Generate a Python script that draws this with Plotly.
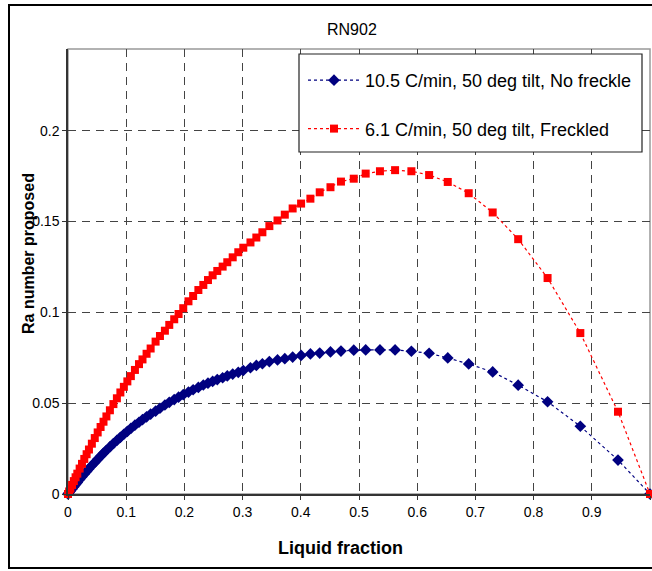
import plotly.graph_objects as go

# Shared liquid-fraction grid
liquid_fraction = [0.0, 0.002, 0.004, 0.007, 0.010, 0.013, 0.016, 0.020, 0.024, 0.028,
                   0.032, 0.036, 0.041, 0.046, 0.051, 0.056, 0.061, 0.066, 0.072, 0.078,
                   0.084, 0.090, 0.096, 0.102, 0.108, 0.115, 0.122, 0.128, 0.135, 0.142,
                   0.1505, 0.158, 0.1665, 0.174, 0.1825, 0.190, 0.198, 0.207, 0.215, 0.224,
                   0.2325, 0.2405, 0.2485, 0.2565, 0.2657, 0.2737, 0.283, 0.2926, 0.3012, 0.3135,
                   0.3236, 0.334, 0.346, 0.360, 0.3725, 0.386, 0.4005, 0.4165, 0.4325, 0.451,
                   0.469, 0.491, 0.5115, 0.536, 0.562, 0.590, 0.6205, 0.6525, 0.6885, 0.7297,
                   0.7735, 0.824, 0.8803, 0.945, 1.0]

ra_no_freckle = [0.0, 0.0008, 0.0016, 0.0028, 0.0040, 0.0052, 0.0064, 0.0080, 0.0095, 0.0110,
                 0.0124, 0.0139, 0.0157, 0.0174, 0.0191, 0.0208, 0.0225, 0.0241, 0.0259, 0.0278,
                 0.0295, 0.0312, 0.0329, 0.0345, 0.0361, 0.0379, 0.0395, 0.0409, 0.0425, 0.0440,
                 0.0456, 0.0472, 0.0490, 0.0505, 0.0520, 0.0533, 0.0547, 0.0561, 0.0574, 0.0587,
                 0.0600, 0.0610, 0.0620, 0.0630, 0.0640, 0.0650, 0.0660, 0.0670, 0.0680, 0.0695,
                 0.0708, 0.0717, 0.0729, 0.0738, 0.0745, 0.0754, 0.0763, 0.0771, 0.0776, 0.0782,
                 0.0787, 0.0792, 0.0793, 0.0793, 0.0793, 0.0786, 0.0775, 0.0749, 0.0716, 0.0672,
                 0.0599, 0.0508, 0.0373, 0.0187, 0.0]

ra_freckled = [0.0, 0.0014, 0.0029, 0.0050, 0.0071, 0.0092, 0.0112, 0.0140, 0.0166, 0.0193,
               0.0219, 0.0245, 0.0277, 0.0308, 0.0339, 0.0369, 0.0398, 0.0427, 0.0461, 0.0495,
               0.0527, 0.0559, 0.0590, 0.0620, 0.0649, 0.0683, 0.0715, 0.0741, 0.0772, 0.0801,
               0.0839, 0.0870, 0.0899, 0.0931, 0.0962, 0.0991, 0.1023, 0.1061, 0.1090, 0.1123,
               0.1151, 0.1178, 0.1204, 0.1228, 0.1252, 0.1276, 0.1303, 0.1331, 0.1356, 0.1385,
               0.1412, 0.1441, 0.1475, 0.1506, 0.1538, 0.1572, 0.1599, 0.1626, 0.1661, 0.1689,
               0.1720, 0.1736, 0.1764, 0.1777, 0.1783, 0.1777, 0.1756, 0.1718, 0.1656, 0.1550,
               0.1403, 0.1189, 0.0886, 0.0453, 0.0]

x_ticks = [0, 0.1, 0.2, 0.3, 0.4, 0.5, 0.6, 0.7, 0.8, 0.9, 1]
x_tick_labels = ["0", "0.1", "0.2", "0.3", "0.4", "0.5", "0.6", "0.7", "0.8", "0.9", "1"]
y_ticks = [0, 0.05, 0.1, 0.15, 0.2]
y_tick_labels = ["0", "0.05", "0.1", "0.15", "0.2"]

FONT = "Liberation Sans, Arial, sans-serif"

fig = go.Figure()
fig.add_trace(go.Scatter(
    x=liquid_fraction, y=ra_no_freckle, mode="lines+markers",
    name="10.5 C/min, 50 deg tilt, No freckle", legendgroup="a",
    line=dict(color="#000080", width=1.2, dash="dot"),
    marker=dict(symbol="diamond", size=9, color="#000080"),
    cliponaxis=False))
fig.add_trace(go.Scatter(
    x=liquid_fraction, y=ra_freckled, mode="lines+markers",
    name="6.1 C/min, 50 deg tilt, Freckled", legendgroup="b",
    line=dict(color="#FF0000", width=1.2, dash="dot"),
    marker=dict(symbol="square", size=8, color="#FF0000"),
    cliponaxis=False))

W, H = 652, 571
L, R, T, B = 68, 2, 49, 77
pw, ph = W - L - R, H - T - B

def px(xp):
    return (xp - L) / pw

def py(yp):
    return (H - B - yp) / ph

fig.update_layout(
    width=W, height=H,
    margin=dict(l=L, r=R, t=T, b=B, pad=0),
    paper_bgcolor="white", plot_bgcolor="white",
    font=dict(family=FONT, color="black"),
    showlegend=True,
    legend=dict(x=px(303), y=py(62), xanchor="left", yanchor="top",
                bgcolor="rgba(0,0,0,0)", borderwidth=0,
                font=dict(size=18, family=FONT), tracegroupgap=22,
                itemwidth=52),
    xaxis=dict(range=[0, 1], tickvals=x_ticks, ticktext=x_tick_labels,
               showgrid=True, gridcolor="#444", griddash="8px,6px", gridwidth=1,
               showline=True, linecolor="#333", linewidth=1.5, mirror=False,
               ticks="outside", ticklen=4, tickcolor="#333",
               tickfont=dict(size=14), zeroline=False),
    yaxis=dict(range=[0, 0.245], tickvals=y_ticks, ticktext=y_tick_labels,
               showgrid=True, gridcolor="#444", griddash="8px,6px", gridwidth=1,
               showline=True, linecolor="#333", linewidth=1.5, mirror=False,
               ticks="outside", ticklen=4, tickcolor="#333",
               tickfont=dict(size=14), zeroline=False),
    shapes=[
        dict(type="rect", xref="paper", yref="paper", x0=0, x1=1, y0=0, y1=1,
             line=dict(color="#999", width=1.5), layer="below"),
        dict(type="rect", xref="paper", yref="paper", x0=px(9), x1=px(660),
             y0=py(568), y1=py(5), line=dict(color="black", width=2)),
        dict(type="rect", xref="paper", yref="paper", x0=px(299), x1=px(642),
             y0=py(152), y1=py(54), line=dict(color="#222", width=1.2),
             fillcolor="white", layer="above"),
    ],
    annotations=[
        dict(text="RN902", x=px(352), y=py(30), xref="paper", yref="paper",
             showarrow=False, font=dict(size=16), xanchor="center", yanchor="middle"),
        dict(text="<b>Liquid fraction</b>", x=px(340), y=py(548), xref="paper", yref="paper",
             showarrow=False, font=dict(size=18), xanchor="center", yanchor="middle"),
        dict(text="<b>Ra number proposed</b>", x=px(28), y=py(254), xref="paper", yref="paper",
             showarrow=False, font=dict(size=16), textangle=-90,
             xanchor="center", yanchor="middle"),
    ],
)

fig.write_html("out.html")
